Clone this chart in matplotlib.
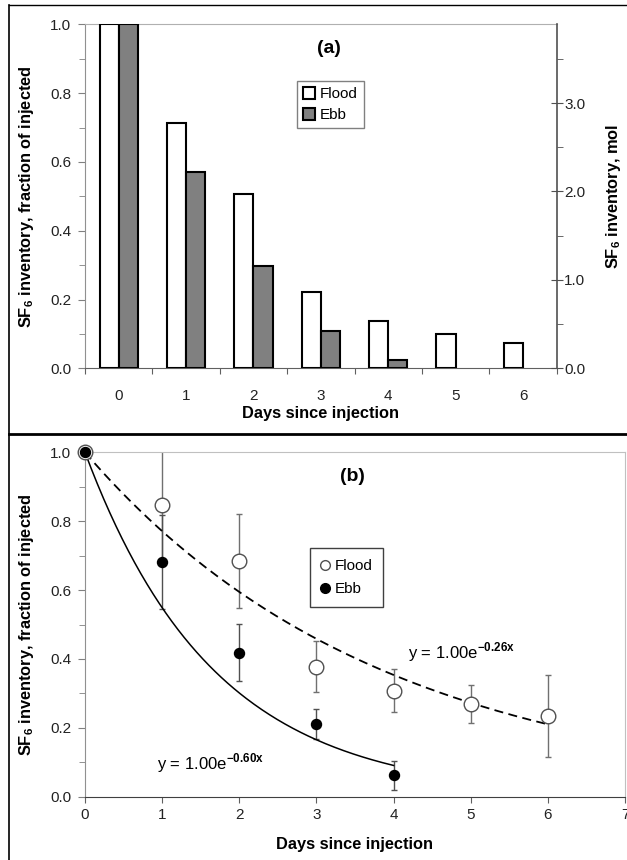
import matplotlib
matplotlib.use("Agg")
import matplotlib.pyplot as plt
import numpy as np
from matplotlib.lines import Line2D
from matplotlib.ticker import MultipleLocator, FixedLocator, NullFormatter

plt.rcParams['font.family'] = ['Liberation Sans', 'DejaVu Sans']
plt.rcParams['mathtext.fontset'] = 'custom'
plt.rcParams['mathtext.rm'] = 'Liberation Sans'
plt.rcParams['mathtext.bf'] = 'Liberation Sans:bold'

# panel (a) : inventory per day
days_a = [0, 1, 2, 3, 4, 5, 6]
flood_a = [1.0, 0.712, 0.508, 0.223, 0.137, 0.099, 0.074]
ebb_a = [1.0, 0.571, 0.297, 0.108, 0.024, None, None]
injected_mol = 3.89

# panel (b) : field points with error bars and fits
days_b = [0, 1, 2, 3, 4, 5, 6]
flood_b = [1.0, 0.847, 0.685, 0.378, 0.308, 0.269, 0.234]
flood_err = [0.0, 0.169, 0.137, 0.074, 0.062, 0.054, 0.120]
days_ebb = [0, 1, 2, 3, 4]
ebb_b = [1.0, 0.681, 0.418, 0.211, 0.062]
ebb_err = [0.0, 0.136, 0.083, 0.043, 0.043]
k_flood = 0.26
k_ebb = 0.60

fig = plt.figure(figsize=(6.27, 8.6), dpi=100)
W, H = 627, 860


def fx(px):
    return px / W


def fy(py):
    return 1 - py / H


TICK = '#222222'
FS = 11
LFS = 11.8

# ---------------- panel (a)
ax = fig.add_axes([fx(85), fy(368.3), fx(556.7) - fx(85), fy(24.3) - fy(368.3)])
w = 0.284
x = np.array(days_a)
ax.bar(x - w / 2, flood_a, width=w, color='white', edgecolor='black', linewidth=1.5, label='Flood', zorder=3)
ex = [d for d, v in zip(days_a, ebb_a) if v is not None]
ev = [v for v in ebb_a if v is not None]
ax.bar(np.array(ex) + w / 2, ev, width=w, color='#808080', edgecolor='black', linewidth=1.5, label='Ebb', zorder=3)
ax.set_xlim(-0.5, 6.5)
ax.set_ylim(0, 1)
ax.xaxis.set_major_locator(FixedLocator(np.arange(-0.5, 7, 1)))
ax.xaxis.set_major_formatter(NullFormatter())
ax.xaxis.set_minor_locator(FixedLocator(days_a))
ax.set_xticklabels([str(d) for d in days_a], minor=True)
ax.tick_params(axis='x', which='major', direction='out', length=4, color='#606060')
ax.tick_params(axis='x', which='minor', length=0, pad=15, labelsize=FS, labelcolor=TICK)
ax.yaxis.set_major_locator(MultipleLocator(0.2))
ax.yaxis.set_minor_locator(MultipleLocator(0.1))
ax.yaxis.set_major_formatter(plt.FuncFormatter(lambda v, p: f'{v:.1f}'))
ax.tick_params(axis='y', which='major', direction='out', length=5, color='#808080', labelsize=FS, labelcolor=TICK, pad=5)
ax.tick_params(axis='y', which='minor', direction='out', length=4, color='#808080')
ax.spines['left'].set_color('#909090')
ax.spines['bottom'].set_color('#606060')
ax.spines['top'].set_color('#b0b0b0')
ax.spines['right'].set_visible(False)
ax.set_ylabel(r'SF$_\mathbf{6}$ inventory, fraction of injected', fontsize=LFS, fontweight='bold')
ax.yaxis.set_label_coords(-0.104, 0.5)
ax.set_xlabel('Days since injection', fontsize=LFS, fontweight='bold')
ax.xaxis.set_label_coords(0.5, -0.11)
ax.text(0.517, 0.931, '(a)', transform=ax.transAxes, ha='center', va='center', fontsize=14, fontweight='bold')
leg = ax.legend(loc='upper left', bbox_to_anchor=(0.449, 0.836), borderaxespad=0, fontsize=FS,
                handlelength=0.8, handleheight=0.8, handletextpad=0.3, fancybox=False,
                framealpha=1, edgecolor='#808080', borderpad=0.4, labelspacing=0.45)
leg.get_frame().set_linewidth(1.0)

ax2 = ax.twinx()
ax2.set_ylim(0, injected_mol)
ax2.yaxis.set_major_locator(MultipleLocator(1.0))
ax2.yaxis.set_minor_locator(MultipleLocator(0.5))
ax2.yaxis.set_major_formatter(plt.FuncFormatter(lambda v, p: f'{v:.1f}'))
ax2.tick_params(axis='y', which='major', direction='inout', length=9, color='#505050', labelsize=FS, labelcolor=TICK, pad=1)
ax2.tick_params(axis='y', which='minor', direction='out', length=4, color='#505050')
for s in ['left', 'top', 'bottom']:
    ax2.spines[s].set_visible(False)
ax2.spines['right'].set_color('#505050')
ax2.spines['right'].set_linewidth(1.2)
ax2.set_ylabel(r'SF$_\mathbf{6}$ inventory, mol', fontsize=LFS, fontweight='bold')
ax2.yaxis.set_label_coords(1.1, 0.5)

# ---------------- panel (b)
bx = fig.add_axes([fx(85), fy(796.7), fx(625) - fx(85), fy(452.3) - fy(796.7)])
bx.errorbar(days_b, flood_b, yerr=flood_err, fmt='none', ecolor='#707070', elinewidth=1, capsize=2, zorder=2)
bx.errorbar(days_ebb, ebb_b, yerr=ebb_err, fmt='none', ecolor='#505050', elinewidth=1, capsize=2, zorder=2)
xf = np.linspace(0, 6, 200)
xe = np.linspace(0, 4, 200)
bx.plot(xf, np.exp(-k_flood * xf), color='black', linestyle=(0, (5, 3)), linewidth=1.3, zorder=3)
bx.plot(xe, np.exp(-k_ebb * xe), color='black', linestyle='-', linewidth=1.1, zorder=3)
bx.plot(days_b, flood_b, 'o', ms=10.5, mfc='white', mec='#505050', mew=1.0, zorder=4, clip_on=False)
bx.plot(days_ebb, ebb_b, 'o', ms=7.2, mfc='black', mec='black', zorder=5, clip_on=False)
bx.set_xlim(0, 7)
bx.set_ylim(0, 1)
bx.xaxis.set_major_locator(MultipleLocator(1))
bx.yaxis.set_major_locator(MultipleLocator(0.2))
bx.yaxis.set_minor_locator(MultipleLocator(0.1))
bx.yaxis.set_major_formatter(plt.FuncFormatter(lambda v, p: f'{v:.1f}'))
bx.tick_params(axis='x', which='major', direction='out', length=4, color='#606060', labelsize=FS, labelcolor=TICK, pad=4)
bx.tick_params(axis='y', which='major', direction='out', length=5, color='#808080', labelsize=FS, labelcolor=TICK, pad=5)
bx.tick_params(axis='y', which='minor', direction='out', length=4, color='#808080')
bx.spines['left'].set_color('#909090')
bx.spines['bottom'].set_color('#404040')
bx.spines['top'].set_color('#c0c0c0')
bx.spines['right'].set_color('#c0c0c0')
bx.set_ylabel(r'SF$_\mathbf{6}$ inventory, fraction of injected', fontsize=LFS, fontweight='bold')
bx.yaxis.set_label_coords(-0.091, 0.5)
bx.set_xlabel('Days since injection', fontsize=LFS, fontweight='bold')
bx.xaxis.set_label_coords(0.5, -0.118)
bx.text(0.496, 0.929, '(b)', transform=bx.transAxes, ha='center', va='center', fontsize=14, fontweight='bold')
bx.text(0.93, 0.098, r'y = 1.00e$^{\mathbf{-0.60x}}$', fontsize=12, ha='left', va='center')
bx.text(4.19, 0.421, r'y = 1.00e$^{\mathbf{-0.26x}}$', fontsize=12, ha='left', va='center')
handles = [Line2D([], [], marker='o', ls='none', ms=7, mfc='white', mec='#505050', mew=1.0),
           Line2D([], [], marker='o', ls='none', ms=7, mfc='black', mec='black')]
leg2 = bx.legend(handles, ['Flood', 'Ebb'], loc='upper left', bbox_to_anchor=(0.4167, 0.7213), borderaxespad=0,
                 fontsize=FS, handlelength=0.6, handletextpad=0.3, fancybox=False, framealpha=1,
                 edgecolor='#404040', borderpad=0.7, labelspacing=0.6)
leg2.get_frame().set_linewidth(1.0)

# outer frame lines
fig.add_artist(Line2D([fx(9), 1], [fy(5.3), fy(5.3)], color='black', linewidth=1.0))
fig.add_artist(Line2D([fx(9.2), fx(9.2)], [fy(5.3), 0], color='black', linewidth=1.2))
fig.add_artist(Line2D([fx(9), 1], [fy(434), fy(434)], color='black', linewidth=2.0))

fig.savefig('out.png', dpi=100, facecolor='white')
